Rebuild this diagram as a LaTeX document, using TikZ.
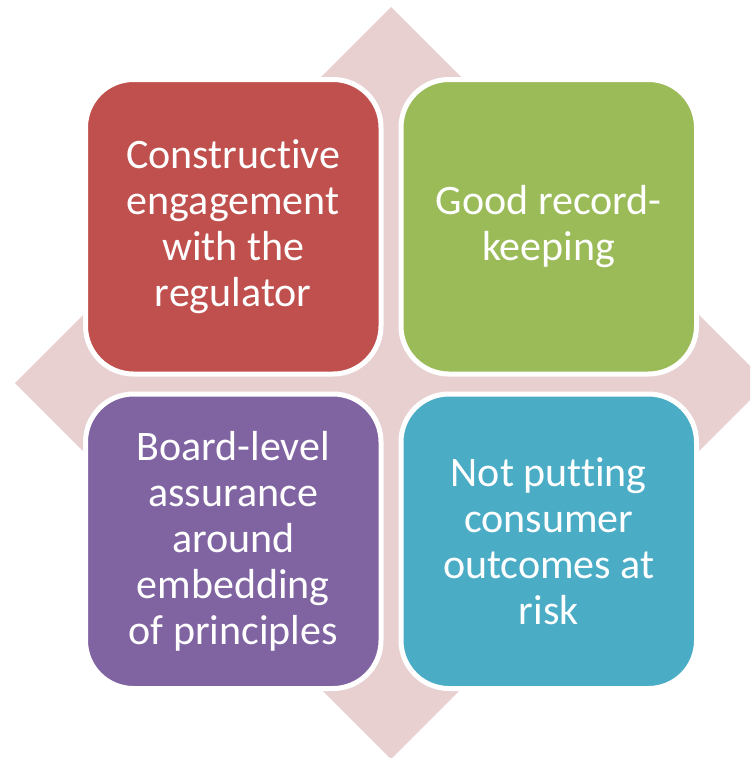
\documentclass[tikz,border=0pt]{standalone}
\usepackage{fontspec}
\setmainfont{Carlito}[Ligatures=NoCommon]
\definecolor{diamondpink}{RGB}{232,208,209}
\definecolor{tilered}{RGB}{192,80,77}
\definecolor{tilegreen}{RGB}{155,187,89}
\definecolor{tilepurple}{RGB}{128,100,162}
\definecolor{tileblue}{RGB}{75,172,198}
\tikzset{
  tile/.style={draw=white, line width=5pt, rounded corners=48pt,
    minimum width=295.5pt, minimum height=294.5pt, inner sep=0pt,
    text=white, align=center, font=\fontsize{42}{46}\selectfont}
}
\begin{document}
\begin{tikzpicture}[x=1pt, y=-1pt]
  \useasboundingbox (0,0) rectangle (750,758);
  \clip (0,0) rectangle (750,758);
  % background diamond
  \fill[diamondpink] (391,7) -- (767,383) -- (391,759) -- (15,383) -- cycle;
  % four tiles
  \node[tile, fill=tilered] (engage) at (233.25,226.75)
    {Constructive\\engagement\\with the\\regulator};
  \node[tile, fill=tilegreen] (records) at (548.75,226.75)
    {Good record-\\keeping};
  \node[tile, fill=tilepurple] (board) at (233.25,541.25)
    {Board-level\\assurance\\around\\embedding\\of principles};
  \node[tile, fill=tileblue] (consumer) at (548.75,541.25)
    {Not putting\\consumer\\outcomes at\\risk};
\end{tikzpicture}
\end{document}
